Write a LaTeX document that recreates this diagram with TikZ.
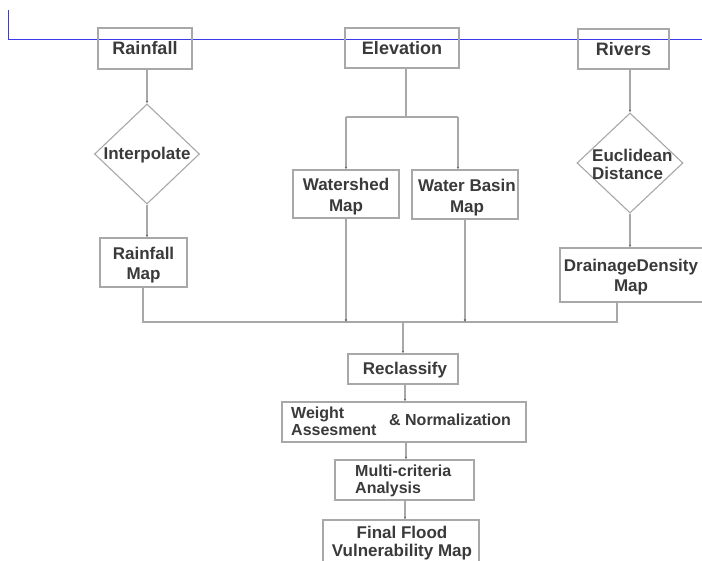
\documentclass[tikz,border=0pt]{standalone}
\usepackage{fontspec}
\setmainfont{Liberation Sans}
\usetikzlibrary{shapes.geometric,arrows.meta}
\definecolor{boxgray}{HTML}{A8A8A8}
\definecolor{txtgray}{HTML}{3A3A3A}
\definecolor{blueln}{HTML}{3A3AE8}
\begin{document}
\begin{tikzpicture}[x=1pt,y=-1pt,
  box/.style={draw=boxgray,line width=1.1pt,rectangle,inner sep=0pt,text=txtgray,font=\fontsize{17}{20}\selectfont\bfseries,align=center},
  topbox/.style={box,font=\fontsize{18}{21}\selectfont\bfseries},
  dia/.style={draw=boxgray,line width=1.1pt,diamond,inner sep=0pt,aspect=1},
  lbl/.style={text=txtgray,font=\fontsize{17}{18}\selectfont\bfseries,inner sep=0pt},
  conn/.style={draw=boxgray,line width=1.1pt,-{Latex[length=2.5pt,width=2.5pt,color=gray!80!black]}},
  seg/.style={draw=boxgray,line width=1.1pt}]
\useasboundingbox (0,0) rectangle (702,561);
\fill[white] (0,0) rectangle (702,561);
% blue guide line
\draw[blueln,line width=1pt] (8,10) -- (8,39.5) -- (702,39.5);
% top boxes
\node[topbox,minimum width=94pt,minimum height=41pt] (rain) at (145,48.5) {Rainfall};
\node[topbox,minimum width=114pt,minimum height=40pt] (elev) at (402,48) {Elevation};
\node[topbox,minimum width=91pt,minimum height=40pt] (riv) at (623.5,49) {Rivers};
% diamonds
\node[dia,minimum width=105pt,minimum height=100pt] (interp) at (147,154) {};
\node[lbl] (interpt) at (147,155) {Interpolate};
\node[dia,minimum width=106pt,minimum height=100pt] (eucl) at (630,163) {};
\node[lbl,anchor=west,align=left,font=\fontsize{17}{18}\selectfont\bfseries] (euclt) at (592,164) {Euclidean\\Distance};
% maps
\node[box,minimum width=87pt,minimum height=49pt] (rmap) at (143.5,262.5) {};
\node[lbl,align=center,font=\fontsize{17}{20}\selectfont\bfseries] (rmapt) at (143.5,265) {Rainfall\\Map};
\node[box,minimum width=106pt,minimum height=48pt] (wshed) at (346,194) {};
\node[lbl,align=center,font=\fontsize{17}{21}\selectfont\bfseries] (wshedt) at (346,197) {Watershed\\Map};
\node[box,minimum width=106pt,minimum height=49pt] (wbasin) at (465,194.5) {};
\node[lbl,align=center,font=\fontsize{17}{21}\selectfont\bfseries] (wbasint) at (467,198) {Water Basin\\Map};
\node[box,minimum width=152pt,minimum height=54pt] (drain) at (636,275) {};
\node[lbl,align=center,font=\fontsize{17}{20}\selectfont\bfseries] (draint) at (631,277) {DrainageDensity\\Map};
% lower chain
\node[box,minimum width=110pt,minimum height=30pt] (recl) at (403,369) {};
\node[lbl] (reclt) at (405,370) {Reclassify};
\node[box,minimum width=244pt,minimum height=40pt] (weight) at (404,422) {};
\node[lbl,anchor=west,align=left,font=\fontsize{16}{17}\selectfont\bfseries] (weightt) at (291,421.5) {Weight\\Assesment};
\node[lbl,anchor=west,font=\fontsize{16}{17}\selectfont\bfseries] (normt) at (389,420) {\& Normalization};
\node[box,minimum width=139pt,minimum height=40pt] (multi) at (404.5,480) {};
\node[lbl,anchor=west,align=left,font=\fontsize{16}{17}\selectfont\bfseries] (multit) at (355,480.5) {Multi-criteria\\Analysis};
\node[box,minimum width=156pt,minimum height=50pt] (final) at (401,545) {};
\node[lbl,align=center,font=\fontsize{17}{18}\selectfont\bfseries] (finalt) at (402,543) {Final Flood\\Vulnerability Map};
% coordinates
\coordinate (b1) at (143,322);
\coordinate (b2) at (346,322);
\coordinate (b3) at (403,322);
\coordinate (b4) at (465,322);
\coordinate (b5) at (617,322);
\coordinate (e1) at (406,117);
\coordinate (e2) at (346,117);
\coordinate (e3) at (458,117);
% connectors
\draw[conn] (147,0 |- rain.south) -- (interp.north);
\draw[conn] (interp.south) -- (interp.south |- rmap.north);
\draw[seg] (b1 |- rmap.south) -- (b1) -- (b5) -- (b5 |- drain.south);
\draw[seg] (e1 |- elev.south) -- (e1);
\draw[seg] (e2) -- (e3);
\draw[conn] (e2) -- (wshed.north);
\draw[conn] (e3) -- (e3 |- wbasin.north);
\draw[conn] (wshed.south) -- (b2);
\draw[conn] (b4 |- wbasin.south) -- (b4);
\draw[conn] (eucl.north |- riv.south) -- (eucl.north);
\draw[conn] (eucl.south) -- (eucl.south |- drain.north);
\draw[conn] (b3) -- (recl.north);
\draw[conn] (405,0 |- recl.south) -- (405,0 |- weight.north);
\draw[conn] (406,0 |- weight.south) -- (406,0 |- multi.north);
\draw[conn] (405,0 |- multi.south) -- (405,0 |- final.north);
\end{tikzpicture}
\end{document}
